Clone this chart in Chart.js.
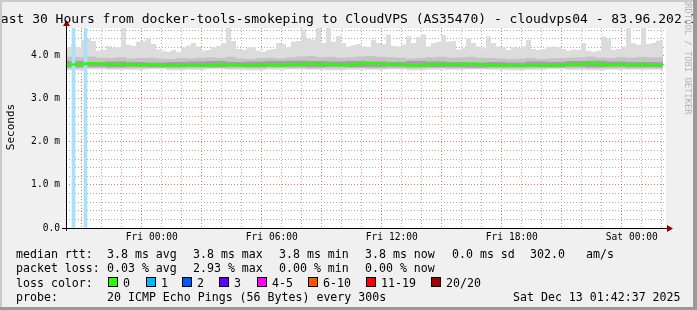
<!DOCTYPE html>
<html>
<head>
<meta charset="utf-8">
<script src="https://cdn.jsdelivr.net/npm/chart.js@4.4.1/dist/chart.umd.min.js"></script>
<style>
	body { margin: 0; background: #f0f0f0; }
	canvas { display: block; }
</style>
</head>
<body>
<canvas id="smokeChart" width="697" height="310"></canvas>
<script>
// setup block
// hours since the start of the graph (Thu 19:42:37), data ends a bit before 30h
const dataEnd = 29.85;

// upper edge of the light smoke, one value per 15 minutes (ms)
const smokeTop = [
	4.16, 4.2, 4.28, 4.2, 4.37, 4.4, 4.35, 4.12, 4.14, 4.23,
	4.19, 4.2, 4.65, 4.26, 4.23, 4.33, 4.35, 4.4, 4.28, 4.15,
	4.12, 4.1, 4.14, 4.1, 4.2, 4.24, 4.3, 4.22, 4.12, 4.14,
	4.2, 4.24, 4.3, 4.65, 4.35, 4.16, 4.14, 4.18, 4.2, 4.12,
	4.1, 4.14, 4.16, 4.3, 4.28, 4.2, 4.33, 4.35, 4.62, 4.4,
	4.38, 4.65, 4.3, 4.65, 4.33, 4.46, 4.3, 4.22, 4.25, 4.28,
	4.22, 4.2, 4.37, 4.3, 4.28, 4.5, 4.24, 4.22, 4.26, 4.46,
	4.3, 4.44, 4.5, 4.22, 4.3, 4.33, 4.48, 4.33, 4.35, 4.15,
	4.18, 4.4, 4.3, 4.22, 4.18, 4.45, 4.3, 4.22, 4.2, 4.14,
	4.2, 4.18, 4.22, 4.37, 4.16, 4.14, 4.16, 4.2, 4.22, 4.2,
	4.16, 4.12, 4.15, 4.14, 4.3, 4.12, 4.1, 4.12, 4.45, 4.4,
	4.14, 4.16, 4.22, 4.65, 4.3, 4.26, 4.65, 4.28, 4.3, 4.36,
];

// upper edge of the middle smoke and the median, one value per 30 minutes (ms)
const smokeMidTop = [
	3.96, 3.98, 3.97, 3.99, 3.96, 3.95, 3.97, 3.94, 3.95, 3.96,
	3.94, 3.93, 3.95, 3.94, 3.96, 3.97, 3.95, 3.98, 3.94, 3.93,
	3.95, 3.96, 3.94, 3.97, 3.99, 4.0, 3.97, 3.98, 3.96, 3.97,
	3.99, 4.0, 3.98, 3.97, 3.96, 3.94, 3.95, 3.97, 3.98, 3.96,
	3.97, 3.98, 3.96, 3.95, 3.94, 3.93, 3.94, 3.95, 3.93, 3.94,
	3.95, 3.96, 3.97, 3.99, 3.96, 3.95, 3.97, 3.96, 3.98, 3.97,
];
const medianRtt = [
	3.8, 3.8, 3.81, 3.83, 3.82, 3.81, 3.8, 3.8, 3.79, 3.8,
	3.79, 3.78, 3.77, 3.78, 3.77, 3.78, 3.8, 3.79, 3.78, 3.77,
	3.79, 3.79, 3.78, 3.8, 3.8, 3.82, 3.81, 3.8, 3.79, 3.8,
	3.82, 3.83, 3.82, 3.81, 3.8, 3.77, 3.78, 3.8, 3.81, 3.8,
	3.81, 3.82, 3.8, 3.79, 3.78, 3.77, 3.77, 3.78, 3.77, 3.78,
	3.79, 3.8, 3.81, 3.83, 3.8, 3.79, 3.8, 3.79, 3.8, 3.79,
];

// remaining smoke edges, one value per hour (ms)
const smokeDarkTop = [
	3.87, 3.88, 3.86, 3.87, 3.86, 3.85, 3.86, 3.87, 3.88, 3.86,
	3.87, 3.88, 3.89, 3.88, 3.87, 3.88, 3.87, 3.86, 3.88, 3.87,
	3.86, 3.85, 3.86, 3.85, 3.87, 3.86, 3.88, 3.89, 3.87, 3.86,
];
const smokeDarkBottom = [
	3.75, 3.74, 3.75, 3.74, 3.75, 3.74, 3.74, 3.75, 3.74, 3.75,
	3.74, 3.75, 3.75, 3.74, 3.75, 3.74, 3.74, 3.75, 3.74, 3.74,
	3.74, 3.73, 3.74, 3.74, 3.75, 3.74, 3.75, 3.74, 3.75, 3.74,
];
const smokeMidBottom = [
	3.71, 3.71, 3.72, 3.71, 3.71, 3.72, 3.71, 3.71, 3.72, 3.71,
	3.71, 3.72, 3.71, 3.71, 3.71, 3.72, 3.71, 3.71, 3.71, 3.72,
	3.71, 3.7, 3.71, 3.71, 3.71, 3.72, 3.71, 3.71, 3.71, 3.71,
];
const smokeBottom = [
	3.68, 3.67, 3.69, 3.68, 3.68, 3.69, 3.67, 3.68, 3.69, 3.68,
	3.67, 3.68, 3.69, 3.68, 3.67, 3.68, 3.68, 3.69, 3.67, 3.68,
	3.68, 3.69, 3.68, 3.67, 3.68, 3.69, 3.68, 3.67, 3.68, 3.68,
];

// loss events (hours since start, lost pings)
const lossTimes = [0.375, 0.975];
const lossPings = [1, 1];

const yMax = 4.65;

// legend texts
const lossColors = [
	['0', '#26ff00'], ['1', '#00b8ff'], ['2', '#0059ff'], ['3', '#5e00ff'],
	['4-5', '#ff00ff'], ['6-10', '#ff5500'], ['11-19', '#ff0000'], ['20/20', '#a10000'],
];
const lossBoxX = [108, 146, 182, 219, 257, 308, 366, 431];

function steps(values, hoursPerBin) {
	const pts = values.map((v, i) => ({ x: i * hoursPerBin, y: v }));
	pts.push({ x: dataEnd, y: values[values.length - 1] });
	return pts;
}

function band(lo, hi, color, order) {
	return [
		{ data: lo, borderWidth: 0, pointRadius: 0, stepped: 'after', fill: false, order: order },
		{ data: hi, borderWidth: 0, pointRadius: 0, stepped: 'after', fill: '-1', backgroundColor: color, order: order },
	];
}

const mono = 'DejaVu Sans Mono';
const redGrid = 'rgba(225,80,80,0.8)';
const greyGrid = 'rgba(150,150,150,0.8)';

// draw the background, frame, texts and legend like rrdtool does
const smokePlugin = {
	id: 'smokePlugin',
	beforeDraw(chart) {
		const ctx = chart.ctx;
		const a = chart.chartArea;
		ctx.save();
		ctx.fillStyle = '#f0f0f0';
		ctx.fillRect(0, 0, chart.width, chart.height);
		ctx.fillStyle = '#ffffff';
		ctx.fillRect(a.left, a.top, a.right - a.left, a.bottom - a.top);
		ctx.restore();
	},
	afterDraw(chart) {
		const ctx = chart.ctx;
		const a = chart.chartArea;
		ctx.save();

		// axes with arrows
		ctx.strokeStyle = '#000';
		ctx.lineWidth = 1;
		ctx.beginPath();
		ctx.moveTo(a.left + 0.5, a.bottom + 3);
		ctx.lineTo(a.left + 0.5, a.top - 3);
		ctx.moveTo(a.left - 4, a.bottom + 0.5);
		ctx.lineTo(a.right + 2, a.bottom + 0.5);
		ctx.stroke();
		ctx.fillStyle = '#990000';
		ctx.beginPath();
		ctx.moveTo(a.left + 0.5, a.top - 8);
		ctx.lineTo(a.left - 3, a.top - 2);
		ctx.lineTo(a.left + 4, a.top - 2);
		ctx.fill();
		ctx.beginPath();
		ctx.moveTo(a.right + 7, a.bottom + 0.5);
		ctx.lineTo(a.right + 1, a.bottom - 3);
		ctx.lineTo(a.right + 1, a.bottom + 4);
		ctx.fill();

		// title
		ctx.fillStyle = '#000';
		ctx.font = '13px "' + mono + '"';
		ctx.textBaseline = 'alphabetic';
		ctx.fillText('Last 30 Hours from docker-tools-smokeping to CloudVPS (AS35470) - cloudvps04 - 83.96.202.12', -7, 23);

		// y title
		ctx.save();
		ctx.translate(14, 127);
		ctx.rotate(-Math.PI / 2);
		ctx.font = '11px "' + mono + '"';
		ctx.textAlign = 'center';
		ctx.fillText('Seconds', 0, 0);
		ctx.restore();

		// rrdtool watermark
		ctx.save();
		ctx.translate(685, -2);
		ctx.rotate(Math.PI / 2);
		ctx.font = '8.8px "' + mono + '"';
		ctx.fillStyle = '#b4b4b4';
		ctx.fillText('RRDTOOL / TOBI OETIKER', 0, 0);
		ctx.restore();

		// legend
		ctx.font = '11.6px "' + mono + '"';
		const rows = [
			[257.5, [[16, 'median rtt:'], [107, '3.8 ms avg'], [193, '3.8 ms max'], [279, '3.8 ms min'], [365, '3.8 ms now'], [452, '0.0 ms sd'], [530, '302.0'], [586, 'am/s']]],
			[272, [[16, 'packet loss:'], [107, '0.03 % avg'], [193, '2.93 % max'], [279, '0.00 % min'], [365, '0.00 % now']]],
			[286.5, [[16, 'loss color:']]],
			[300.5, [[16, 'probe:'], [107, '20 ICMP Echo Pings (56 Bytes) every 300s'], [513, 'Sat Dec 13 01:42:37 2025']]],
		];
		rows.forEach(([y, items]) => {
			items.forEach(([x, t]) => ctx.fillText(t, x, y));
		});
		lossColors.forEach(([label, color], i) => {
			const x = lossBoxX[i];
			ctx.fillStyle = color;
			ctx.fillRect(x + 0.5, 277.5, 9, 9);
			ctx.strokeStyle = '#000';
			ctx.strokeRect(x + 0.5, 277.5, 9, 9);
			ctx.fillStyle = '#000';
			ctx.fillText(label, x + 15, 286.5);
		});

		// frame shading
		ctx.fillStyle = '#cbcbcb';
		ctx.fillRect(0, 0, chart.width, 2);
		ctx.fillRect(0, 0, 2, chart.height);
		ctx.fillStyle = '#999999';
		ctx.fillRect(chart.width - 4, 0, 4, chart.height);
		ctx.fillRect(0, chart.height - 3, chart.width, 3);
		ctx.restore();
	},
};

// config block
const hourTicks = [];
for (let k = 0; k < 30; k++) hourTicks.push(17 / 60 + 23 / 3600 + k);
const yTicks = [];
for (let k = 0; k <= 23; k++) yTicks.push(Math.round(k * 2) / 10);

function hourOf(v) {
	return Math.round(19 + 42 / 60 + 37 / 3600 + v);
}
function isInt(v) {
	return Math.abs(v - Math.round(v)) < 1e-6;
}

const config = {
	type: 'line',
	data: {
		datasets: [
			...band(steps(smokeBottom, 1), steps(smokeTop, 0.25), '#dcdcdc', 6),
			...band(steps(smokeMidBottom, 1), steps(smokeMidTop, 0.5), '#c4c4c4', 5),
			...band(steps(smokeDarkBottom, 1), steps(smokeDarkTop, 1), '#a2a2a2', 4),
			{
				type: 'bar',
				data: lossTimes.map((t, i) => ({ x: t, y: lossPings[i] > 0 ? yMax : 0 })),
				backgroundColor: '#a6e2fb',
				barThickness: 3,
				order: 2,
			},
			{
				data: steps(medianRtt, 0.5),
				borderColor: '#26ff00',
				borderWidth: 2.5,
				pointRadius: 0,
				stepped: 'after',
				fill: false,
				order: 1,
			},
		],
	},
	options: {
		responsive: false,
		animation: false,
		layout: { padding: { left: 0, right: 31, top: 28, bottom: 62 } },
		plugins: { legend: { display: false }, tooltip: { enabled: false } },
		scales: {
			x: {
				type: 'linear',
				min: 0,
				max: 30,
				offset: false,
				z: 1,
				afterFit: (s) => { s.height = 20; },
				afterBuildTicks: (s) => { s.ticks = hourTicks.map((v) => ({ value: v })); },
				grid: {
					drawTicks: false,
					color: (c) => (c.tick && hourOf(c.tick.value) % 3 === 0 ? redGrid : greyGrid),
				},
				border: { display: false, dash: [1, 2] },
				ticks: {
					autoSkip: false,
					maxRotation: 0,
					padding: 4,
					color: '#000',
					font: { family: mono, size: 9.6 },
					callback: (v) => {
						const h = hourOf(v);
						if (h % 6 !== 0) return '';
						const day = h < 24 ? 'Thu' : h < 48 ? 'Fri' : 'Sat';
						return day + ' ' + String(h % 24).padStart(2, '0') + ':00';
					},
				},
			},
			y: {
				min: 0,
				max: yMax,
				z: 1,
				afterFit: (s) => { s.width = 66; },
				afterBuildTicks: (s) => { s.ticks = yTicks.map((v) => ({ value: v })); },
				grid: {
					drawTicks: false,
					color: (c) => (c.tick && isInt(c.tick.value) && c.tick.value > 0 ? redGrid : greyGrid),
				},
				border: { display: false, dash: [1, 2] },
				ticks: {
					autoSkip: false,
					padding: 6,
					color: '#000',
					font: { family: mono, size: 9.6 },
					callback: (v) => (isInt(v) ? (v === 0 ? '0.0' : v.toFixed(1) + ' m') : ''),
				},
			},
		},
	},
	plugins: [smokePlugin],
};

// render / init block
const smokeChart = new Chart(document.getElementById('smokeChart'), config);
</script>
</body>
</html>
